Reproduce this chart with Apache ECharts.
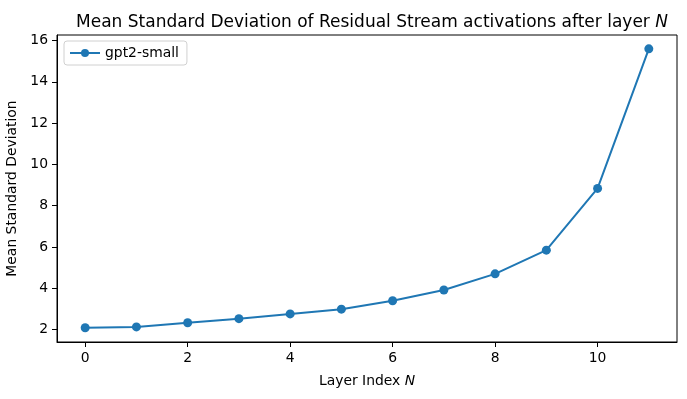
<!DOCTYPE html>
<html>
<head>
<meta charset="utf-8">
<script src="https://cdn.jsdelivr.net/npm/echarts@6/dist/echarts.min.js"></script>
<style>
  html, body { margin: 0; padding: 0; background: #fff; }
  #chart { width: 687px; height: 399px; }
</style>
</head>
<body>
<div id="chart"></div>
<script>
// 数据
const layers = [0, 1, 2, 3, 4, 5, 6, 7, 8, 9, 10, 11];
const meanStd = [2.09, 2.13, 2.33, 2.53, 2.76, 2.99, 3.40, 3.92, 4.70, 5.85, 8.84, 15.60];
const xTicks = [0, 2, 4, 6, 8, 10];
const yTicks = [2, 4, 6, 8, 10, 12, 14, 16];

const font = 'DejaVu Sans';
const chart = echarts.init(document.getElementById('chart'));

const option = {
    animation: false,
    textStyle: { fontFamily: font, color: '#000' },
    title: {
        text: 'Mean Standard Deviation of Residual Stream activations after layer {i|N}',
        left: 367,
        textAlign: 'center',
        top: 9,
        textStyle: {
            fontFamily: font,
            fontWeight: 'normal',
            fontSize: 17,
            color: '#000',
            rich: {
                i: { fontFamily: font, fontStyle: 'italic', fontSize: 17, color: '#000' }
            }
        }
    },
    legend: {
        data: ['gpt2-small'],
        left: 64,
        top: 41,
        orient: 'vertical',
        padding: [5, 8, 5, 5],
        itemWidth: 30,
        itemHeight: 10,
        borderColor: '#d0d0d0',
        borderWidth: 1,
        borderRadius: 3,
        textStyle: { fontFamily: font, fontSize: 13.9, color: '#000' }
    },
    grid: {
        left: 57,
        right: 10,
        top: 35,
        bottom: 57,
        outerBoundsMode: 'none',
        show: true,
        borderColor: '#000',
        borderWidth: 1
    },
    xAxis: {
        type: 'value',
        min: -0.55,
        max: 11.55,
        name: 'Layer Index {i|N}',
        nameLocation: 'middle',
        nameGap: 32,
        nameTextStyle: {
            fontFamily: font, fontSize: 13.9, color: '#000',
            rich: { i: { fontFamily: font, fontStyle: 'italic', fontSize: 13.9, color: '#000' } }
        },
        splitLine: { show: false },
        axisLine: { show: true, onZero: false, lineStyle: { color: '#000', width: 1 } },
        axisTick: { show: true, inside: false, length: 5, customValues: xTicks, lineStyle: { color: '#000' } },
        axisLabel: { fontFamily: font, fontSize: 13.9, color: '#000', margin: 9, customValues: xTicks }
    },
    yAxis: {
        type: 'value',
        min: 1.4,
        max: 16.27,
        name: 'Mean Standard Deviation',
        nameLocation: 'middle',
        nameGap: 33,
        nameTextStyle: { fontFamily: font, fontSize: 13.9, color: '#000' },
        splitLine: { show: false },
        axisLine: { show: true, onZero: false, lineStyle: { color: '#000', width: 1 } },
        axisTick: { show: true, inside: false, length: 5, customValues: yTicks, lineStyle: { color: '#000' } },
        axisLabel: { fontFamily: font, fontSize: 13.9, color: '#000', margin: 9, customValues: yTicks }
    },
    series: [{
        name: 'gpt2-small',
        type: 'line',
        data: layers.map((l, i) => [l, meanStd[i]]),
        symbol: 'circle',
        symbolSize: 9,
        showAllSymbol: true,
        itemStyle: { color: '#1f77b4' },
        lineStyle: { color: '#1f77b4', width: 2 }
    }]
};

chart.setOption(option);
</script>
</body>
</html>
